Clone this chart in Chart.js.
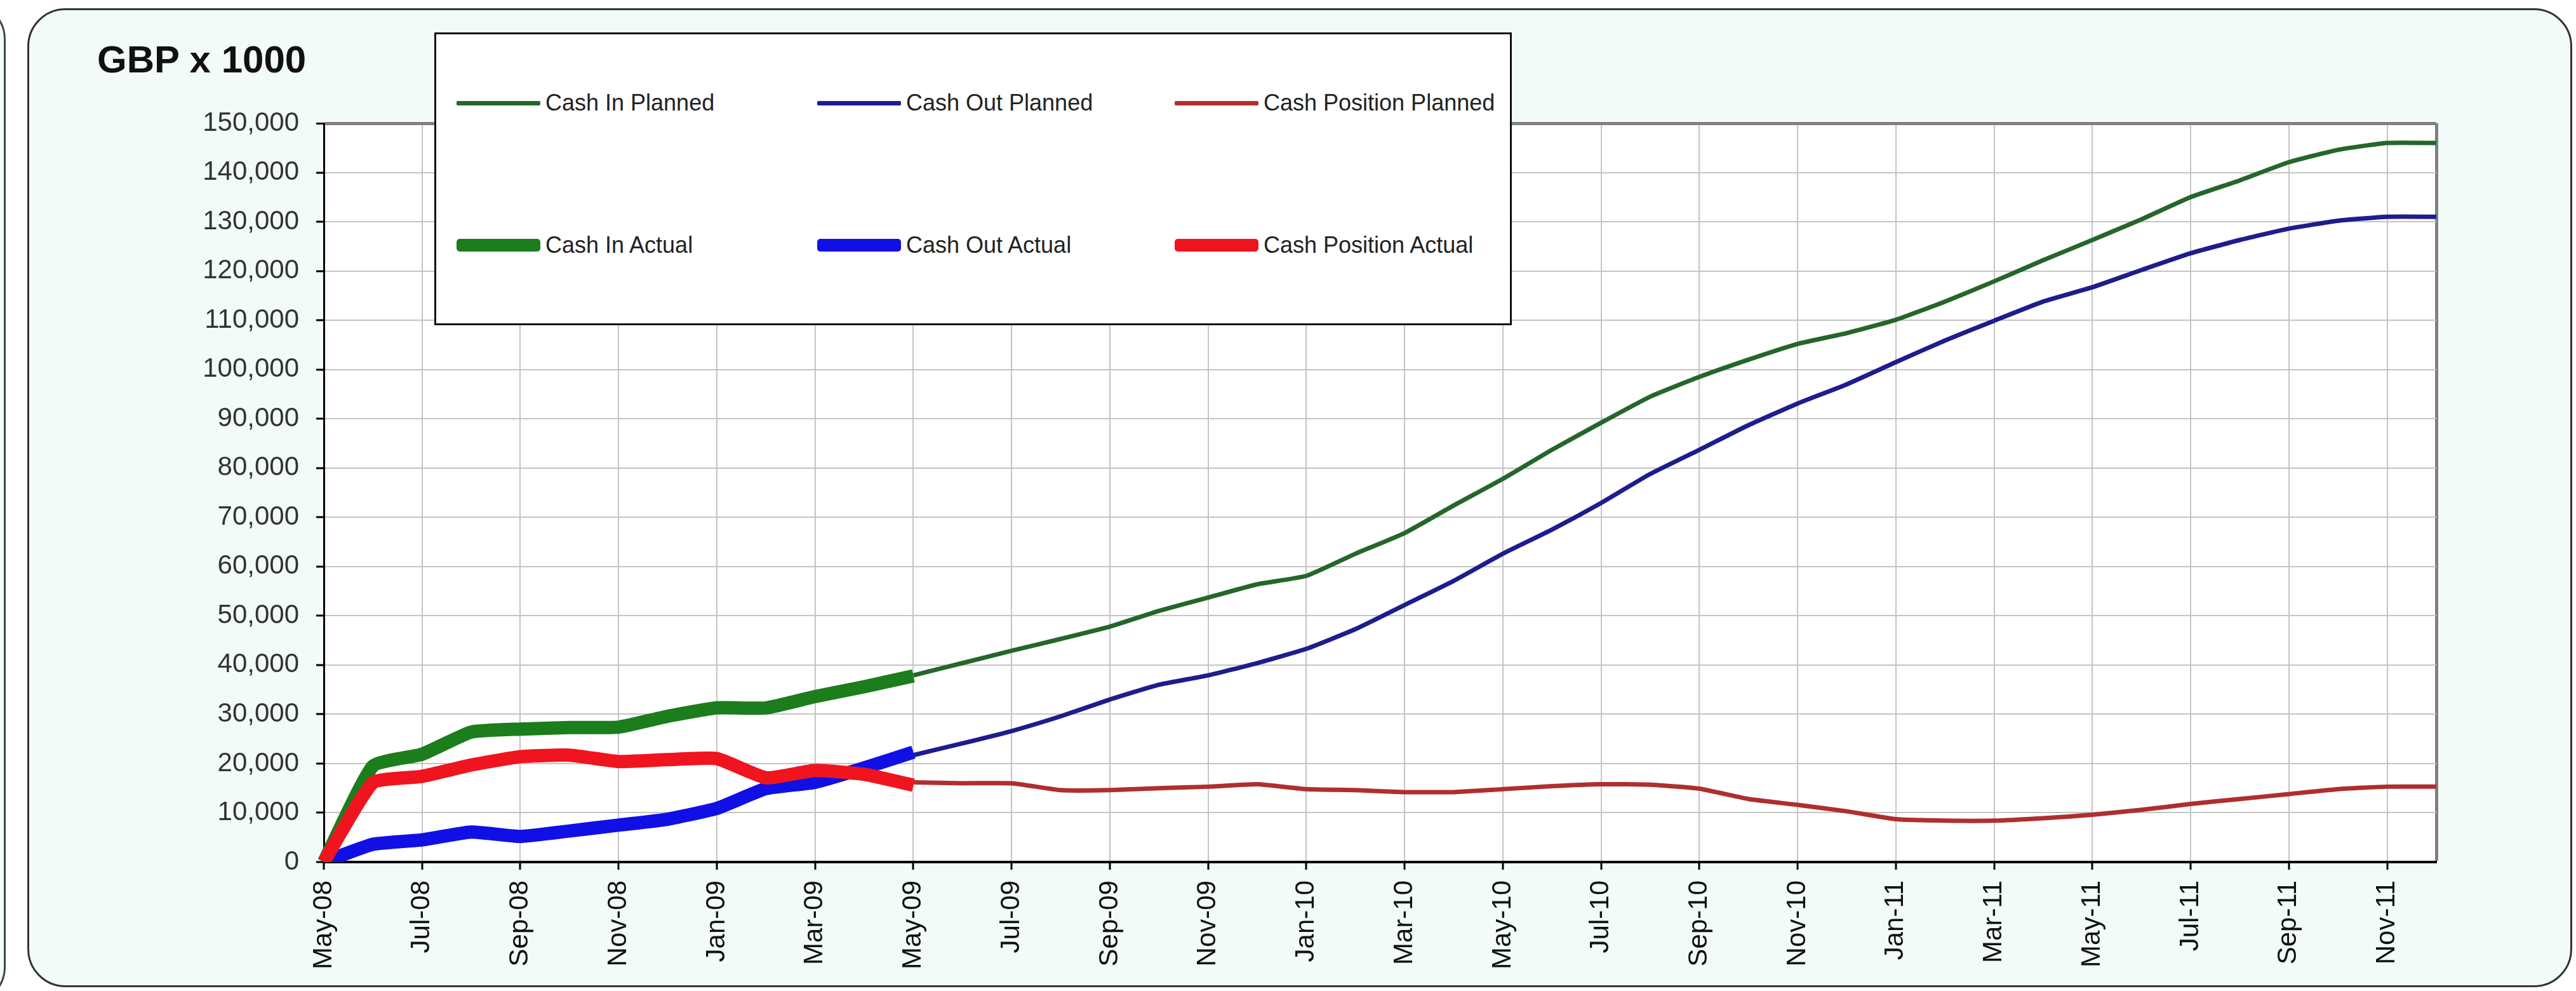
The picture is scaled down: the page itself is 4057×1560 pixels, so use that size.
<!DOCTYPE html>
<html>
<head>
<meta charset="utf-8">
<title>Cash flow</title>
<script src="https://cdn.jsdelivr.net/npm/chart.js@4.4.0/dist/chart.umd.min.js"></script>
<style>
body { margin: 0; width: 4057px; height: 1560px; overflow: hidden; background: #fff; position: relative; }
#neighbour { position: absolute; left: -300px; top: 2px; width: 309px; height: 1580px; box-sizing: border-box; border: 3px solid #444; border-radius: 60px; background: #f2fbf8; }
#panel { position: absolute; left: 43px; top: 13px; width: 4008px; height: 1541px; box-sizing: border-box; border: 3px solid #333; border-radius: 60px; background: #f2fbf8; }
#chart { position: absolute; left: 0; top: 0; }
#title { position: absolute; left: 153px; top: 64px; font: bold 60px 'Liberation Sans', Arial, sans-serif; line-height: 60px; color: #111; }
#legend { position: absolute; left: 684px; top: 51px; width: 1697px; height: 461px; box-sizing: border-box; background: #fff; border: 3px solid #111; }
.item { position: absolute; height: 50px; display: flex; align-items: center; font: 36px 'Liberation Sans', Arial, sans-serif; color: #222; white-space: nowrap; }
.swatch { display: inline-block; width: 132px; margin-right: 8px; }
</style>
</head>
<body>
<div id="neighbour"></div>
<div id="panel"></div>
<canvas id="chart" width="4057" height="1560"></canvas>
<div id="title">GBP x 1000</div>
<div id="legend"></div>
<script>
var months = ["May-08", "Jun-08", "Jul-08", "Aug-08", "Sep-08", "Oct-08", "Nov-08", "Dec-08",
    "Jan-09", "Feb-09", "Mar-09", "Apr-09", "May-09", "Jun-09", "Jul-09", "Aug-09",
    "Sep-09", "Oct-09", "Nov-09", "Dec-09", "Jan-10", "Feb-10", "Mar-10", "Apr-10",
    "May-10", "Jun-10", "Jul-10", "Aug-10", "Sep-10", "Oct-10", "Nov-10", "Dec-10",
    "Jan-11", "Feb-11", "Mar-11", "Apr-11", "May-11", "Jun-11", "Jul-11", "Aug-11",
    "Sep-11", "Oct-11", "Nov-11", "Dec-11"];

// actuals: May-08 .. May-09
var cashInActual = [0, 19500, 21900, 26400, 27000, 27300, 27400, 29600, 31300, 31300, 33600, 35600, 37800];
var cashOutActual = [0, 3600, 4500, 6100, 5200, 6300, 7500, 8700, 10900, 14900, 16200, 19100, 22300];
var cashPosActual = [0, 16100, 17400, 19700, 21400, 21700, 20400, 20800, 21000, 17100, 18600, 17800, 15600];

// planned: May-09 .. Dec-11
var plannedStart = 12;
var cashInPlanned = [37900, 40400, 42900, 45300, 47800, 51000, 53700, 56400, 58100, 62600, 66800, 72400,
    77800, 83700, 89200, 94500, 98500, 102000, 105200, 107400, 110100, 113800, 117900, 122200,
    126300, 130500, 135000, 138400, 142100, 144600, 146000, 146000];
var cashOutPlanned = [21700, 24100, 26600, 29600, 33000, 36000, 37900, 40400, 43300, 47300, 52200, 57100,
    62600, 67500, 72900, 78800, 83700, 88700, 93100, 97000, 101500, 105900, 109900, 113800,
    116700, 120200, 123600, 126300, 128600, 130200, 131000, 131000];
var cashPosPlanned = [16200, 16000, 16000, 14600, 14600, 15000, 15300, 15800, 14800, 14600, 14200, 14200,
    14800, 15400, 15800, 15700, 14900, 12800, 11600, 10300, 8700, 8400, 8400, 8900,
    9600, 10600, 11800, 12800, 13800, 14800, 15300, 15300];

var yTicks = [0, 150000, 10000]; // min, max, step

var pad = function(arr, n) {
    var out = [];
    for (var i = 0; i < n; i++) out.push(null);
    return out.concat(arr);
};

var datasets = [
    { label: "Cash In Planned", data: pad(cashInPlanned, plannedStart), borderColor: '#25662b', borderWidth: 7, order: 3, col: 0, row: 0 },
    { label: "Cash Out Planned", data: pad(cashOutPlanned, plannedStart), borderColor: '#1d1d8e', borderWidth: 7, order: 3, col: 1, row: 0 },
    { label: "Cash Position Planned", data: pad(cashPosPlanned, plannedStart), borderColor: '#b02e2e', borderWidth: 7, order: 3, col: 2, row: 0 },
    { label: "Cash In Actual", data: cashInActual, borderColor: '#1b7d1b', borderWidth: 21, order: 2, col: 0, row: 1 },
    { label: "Cash Out Actual", data: cashOutActual, borderColor: '#1010e6', borderWidth: 21, order: 1, col: 1, row: 1 },
    { label: "Cash Position Actual", data: cashPosActual, borderColor: '#f0141e', borderWidth: 21, order: 0, col: 2, row: 1 }
];

// legend box (html, real text)
var legendEl = document.getElementById('legend');
var colX = [32, 600, 1163];
var rowY = [83, 307];
datasets.forEach(function(ds) {
    var item = document.createElement('div');
    item.className = 'item';
    item.style.left = colX[ds.col] + 'px';
    item.style.top = rowY[ds.row] + 'px';
    var sw = document.createElement('span');
    sw.className = 'swatch';
    sw.style.height = (ds.row === 0 ? 7 : 20) + 'px';
    sw.style.borderRadius = (ds.row === 0 ? 2 : 5) + 'px';
    sw.style.background = ds.borderColor;
    item.appendChild(sw);
    item.appendChild(document.createTextNode(ds.label));
    legendEl.appendChild(item);
});

var plotBg = {
    id: 'plotBg',
    beforeDraw: function(chart) {
        var a = chart.chartArea, c = chart.ctx;
        c.save();
        c.fillStyle = '#ffffff';
        c.fillRect(a.left, a.top, a.right - a.left, a.bottom - a.top);
        c.restore();
    }
};

var sans = "'Liberation Sans', Arial, sans-serif";
var last = months.length - 1;

window.onload = function() {
    window.cashChart = new Chart(document.getElementById('chart'), {
        type: 'line',
        data: {
            labels: months,
            datasets: datasets.map(function(ds) {
                return { label: ds.label, data: ds.data, borderColor: ds.borderColor, borderWidth: ds.borderWidth, order: ds.order, fill: false };
            })
        },
        plugins: [plotBg],
        options: {
            responsive: false,
            animation: false,
            devicePixelRatio: 1,
            layout: { padding: { left: 0, top: 194, right: 220, bottom: 0 } },
            plugins: { legend: { display: false }, tooltip: { enabled: false } },
            elements: {
                point: { radius: 0 },
                line: { tension: 0.15, borderCapStyle: 'butt', borderJoinStyle: 'round' }
            },
            scales: {
                x: {
                    offset: false,
                    border: { color: '#000', width: 4 },
                    grid: {
                        color: function(c) { return c.index === last ? '#808080' : (c.index % 2 ? 'rgba(0,0,0,0)' : '#c4c4c4'); },
                        lineWidth: function(c) { return c.index === last ? 5 : 2; },
                        tickColor: function(c) { return c.index % 2 ? 'rgba(0,0,0,0)' : '#000'; },
                        tickWidth: 3,
                        tickLength: 12
                    },
                    ticks: {
                        autoSkip: false, maxRotation: 90, minRotation: 90, padding: 17,
                        color: '#111', font: { family: sans, size: 42 },
                        callback: function(v, i) { return i % 2 ? '' : months[i]; }
                    },
                    afterFit: function(s) { s.height = 203; }
                },
                y: {
                    min: yTicks[0], max: yTicks[1],
                    border: { color: '#000', width: 3 },
                    grid: {
                        color: function(c) { return c.tick && c.tick.value === yTicks[1] ? '#808080' : '#c4c4c4'; },
                        lineWidth: function(c) { return c.tick && c.tick.value === yTicks[1] ? 5 : 2; },
                        tickColor: '#000',
                        tickWidth: 3,
                        tickLength: 12
                    },
                    ticks: {
                        stepSize: yTicks[2], padding: 27,
                        color: '#333', font: { family: sans, size: 42 },
                        callback: function(v) { return v.toLocaleString('en-US'); }
                    },
                    afterFit: function(s) { s.width = 510; }
                }
            }
        }
    });
};
</script>
</body>
</html>
